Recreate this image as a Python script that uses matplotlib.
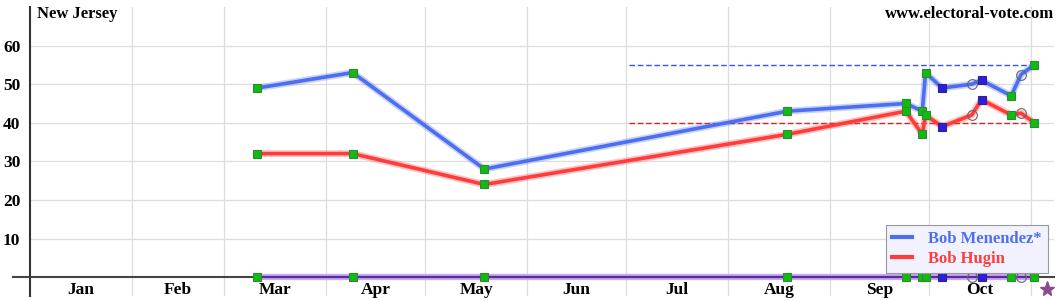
import matplotlib.pyplot as plt
import numpy as np

# day-of-year (0 = Jan 1, 2018) for each poll
poll_days = [69, 98, 138, 230, 266, 271, 272, 277, 286, 289, 298, 301, 305]
menendez = [49, 53, 28, 43, 45, 43, 53, 49, 50, 51, 47, 52.5, 55]
hugin = [32, 32, 24, 37, 43, 37, 42, 39, 42, 46, 42, 42.5, 40]
# g = green square, b = blue square, o = open circle
poll_kind = ['g', 'g', 'g', 'g', 'g', 'g', 'g', 'b', 'o', 'b', 'g', 'o', 'g']

months = ['Jan', 'Feb', 'Mar', 'Apr', 'May', 'Jun', 'Jul', 'Aug', 'Sep', 'Oct']
month_starts = [0, 31, 59, 90, 120, 151, 181, 212, 243, 273, 304]
election_day = 309
avg_start = 182
avg_menendez = 55
avg_hugin = 40

blue = '#4d6ef0'
red = '#ff3b3b'

plt.rcParams['font.family'] = ['Liberation Serif', 'DejaVu Serif']
plt.rcParams['font.weight'] = 'bold'

fig = plt.figure(figsize=(10.6, 3.0), dpi=100)
ax = fig.add_axes([30 / 1060, 4 / 300, (1054 - 30) / 1060, (293 - 4) / 300])
ax.set_xlim(0, 311)
ax.set_ylim(-4.9, 70)

for s in ['top', 'right', 'bottom']:
    ax.spines[s].set_visible(False)
ax.spines['left'].set_color('#333333')
ax.spines['left'].set_linewidth(1.5)

ax.set_yticks([10, 20, 30, 40, 50, 60])
ax.set_yticklabels(['10', '20', '30', '40', '50', '60'], fontsize=12.5, fontweight='bold')
ax.tick_params(axis='y', length=0, pad=7)
ax.set_xticks([])
for y in [10, 20, 30, 40, 50, 60]:
    ax.axhline(y, color='#dddddd', lw=0.9, zorder=0)
for d in month_starts[1:]:
    ax.axvline(d, color='#dddddd', lw=0.9, zorder=0)

for i, m in enumerate(months):
    mid = (month_starts[i] + month_starts[i + 1]) / 2
    ax.text(mid, -3.3, m, ha='center', va='center', fontsize=12.5, fontweight='bold')

# baseline
ax.plot([-5.2, 311], [0, 0], color='#444444', lw=1.5, clip_on=False, zorder=2)
ax.plot([poll_days[0], poll_days[-1]], [0, 0], color='#c9a8f0', lw=4.5, zorder=2)
ax.plot([poll_days[0], poll_days[-1]], [0, 0], color='#5a2aa0', lw=1.6, zorder=3)

# average dashed lines
ax.plot([avg_start, poll_days[-1]], [avg_menendez] * 2, color='#3355ee', lw=1.0, ls=(0, (4, 2)), zorder=2)
ax.plot([avg_start, poll_days[-1]], [avg_hugin] * 2, color='#dd2222', lw=1.0, ls=(0, (4, 2)), zorder=2)

# candidate lines with glow
for vals, c in [(menendez, blue), (hugin, red)]:
    ax.plot(poll_days, vals, color=c, lw=5, alpha=0.3, zorder=3, solid_capstyle='round')
    ax.plot(poll_days, vals, color=c, lw=2.6, zorder=4, solid_joinstyle='round')

def draw_marker(x, y, kind):
    if kind == 'g':
        ax.plot(x, y, 's', ms=6, mfc='#11bb11', mec='#338833', mew=0.8, zorder=5)
    elif kind == 'b':
        ax.plot(x, y, 's', ms=6, mfc='#2a1fe0', mec='#332288', mew=0.8, zorder=5)
    else:
        ax.plot(x, y, 'o', ms=7, mfc='none', mec='#666666', mew=0.8, zorder=5)

for d, m, h, k in zip(poll_days, menendez, hugin, poll_kind):
    draw_marker(d, m, k)
    draw_marker(d, h, k)
    draw_marker(d, 0, k)

ax.plot(election_day, -3.1, '*', ms=11, color='#8a4a90', clip_on=False, zorder=5)

ax.text(2, 70.3, 'New Jersey', ha='left', va='top', fontsize=12, fontweight='bold')
ax.text(311, 70.3, 'www.electoral-vote.com', ha='right', va='top', fontsize=12, fontweight='bold')

h1, = ax.plot([], [], color=blue, lw=3)
h2, = ax.plot([], [], color=red, lw=3)
leg = ax.legend([h1, h2], ['Bob Menendez*', 'Bob Hugin'], loc='lower right',
                bbox_to_anchor=(0.994, 0.08), borderaxespad=0,
                prop={'weight': 'bold', 'size': 12},
                labelcolor=[blue, red], facecolor='#f2f2ff', edgecolor='#999999',
                framealpha=1, fancybox=False, handlelength=1.2, borderpad=0.35,
                labelspacing=0.25, handletextpad=1.0)
leg.get_frame().set_linewidth(0.8)
leg.set_zorder(10)

fig.savefig('out.png', dpi=100)
